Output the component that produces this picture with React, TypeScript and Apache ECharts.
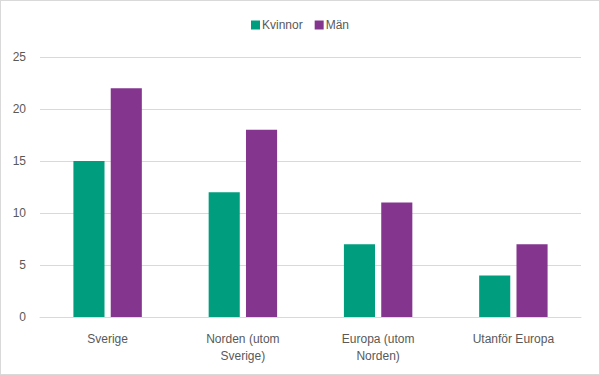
import React, { useEffect, useRef } from "react";
import * as echarts from "echarts";

const categories = ["Sverige", "Norden (utom\nSverige)", "Europa (utom\nNorden)", "Utanför Europa"];
const kvinnor = [15, 12, 7, 4];
const man = [22, 18, 11, 7];
const seriesNames = ["Kvinnor", "Män"];

export default function App() {
  const ref = useRef<HTMLDivElement>(null);
  useEffect(() => {
    document.body.style.margin = "0";
    const chart = echarts.init(ref.current!, null, { renderer: "svg" });
    const font = "Liberation Sans, Arial, sans-serif";
    chart.setOption({
      animation: false,
      textStyle: { fontFamily: font },
      legend: {
        top: 13,
        left: "center",
        itemWidth: 9,
        itemHeight: 9,
        itemGap: 12,
        icon: "rect",
        textStyle: { color: "#595959", fontSize: 12, fontFamily: font, padding: [0, 0, 0, -3] },
        data: seriesNames,
      },
      grid: { left: 39, right: 18, top: 56, bottom: 57, containLabel: false },
      xAxis: {
        type: "category",
        data: categories,
        axisTick: { show: false },
        axisLine: { lineStyle: { color: "#d9d9d9" } },
        axisLabel: { color: "#595959", fontSize: 12, margin: 13, lineHeight: 17, fontFamily: font, interval: 0 },
      },
      yAxis: {
        type: "value",
        min: 0,
        max: 25,
        interval: 5,
        axisLabel: { color: "#595959", fontSize: 12, margin: 14, fontFamily: font },
        splitLine: { lineStyle: { color: "#d9d9d9" } },
        axisLine: { show: false },
        axisTick: { show: false },
      },
      series: [
        {
          name: seriesNames[0],
          type: "bar",
          data: kvinnor,
          barWidth: "23%",
          barGap: "20%",
          itemStyle: { color: "#009e7e" },
        },
        {
          name: seriesNames[1],
          type: "bar",
          data: man,
          barWidth: "23%",
          itemStyle: { color: "#84368f" },
        },
      ],
    });
    return () => chart.dispose();
  }, []);
  return (
    <div
      style={{
        position: "absolute",
        left: 0,
        top: 0,
        width: 600,
        height: 375,
        border: "1px solid #d9d9d9",
        boxSizing: "border-box",
        background: "#fff",
      }}
    >
      <div ref={ref} style={{ width: 598, height: 373 }} />
    </div>
  );
}
